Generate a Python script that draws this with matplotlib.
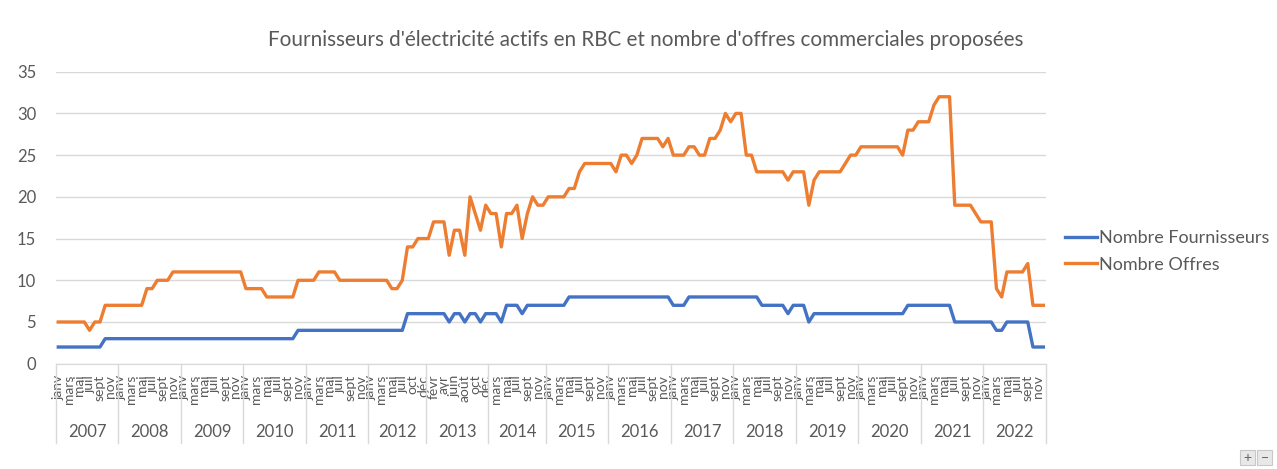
import matplotlib.pyplot as plt
from matplotlib.lines import Line2D
from matplotlib.patches import Rectangle
from matplotlib.transforms import blended_transform_factory

YEARS = list(range(2007, 2023))
MONTHS = ["janv", "févr", "mars", "avr", "mai", "juin",
          "juil", "août", "sept", "oct", "nov", "déc"]
# mois absents du tableau source
MISSING_MONTHS = {2012: "sept", 2014: "févr"}

FOURNISSEURS = [
    2, 2, 2, 2, 2, 2, 2, 2, 2, 3, 3, 3,        # 2007
    3, 3, 3, 3, 3, 3, 3, 3, 3, 3, 3, 3,        # 2008
    3, 3, 3, 3, 3, 3, 3, 3, 3, 3, 3, 3,        # 2009
    3, 3, 3, 3, 3, 3, 3, 3, 3, 3, 4, 4,        # 2010
    4, 4, 4, 4, 4, 4, 4, 4, 4, 4, 4, 4,        # 2011
    4, 4, 4, 4, 4, 4, 4, 6, 6, 6, 6,           # 2012
    6, 6, 6, 6, 5, 6, 6, 5, 6, 6, 5, 6,        # 2013
    6, 6, 5, 7, 7, 7, 6, 7, 7, 7, 7,           # 2014
    7, 7, 7, 7, 8, 8, 8, 8, 8, 8, 8, 8,        # 2015
    8, 8, 8, 8, 8, 8, 8, 8, 8, 8, 8, 8,        # 2016
    7, 7, 7, 8, 8, 8, 8, 8, 8, 8, 8, 8,        # 2017
    8, 8, 8, 8, 8, 7, 7, 7, 7, 7, 6, 7,        # 2018
    7, 7, 5, 6, 6, 6, 6, 6, 6, 6, 6, 6,        # 2019
    6, 6, 6, 6, 6, 6, 6, 6, 6, 7, 7, 7,        # 2020
    7, 7, 7, 7, 7, 7, 5, 5, 5, 5, 5, 5,        # 2021
    5, 5, 4, 4, 5, 5, 5, 5, 5, 2, 2, 2,        # 2022
]

OFFRES = [
    5, 5, 5, 5, 5, 5, 4, 5, 5, 7, 7, 7,                    # 2007
    7, 7, 7, 7, 7, 9, 9, 10, 10, 10, 11, 11,               # 2008
    11, 11, 11, 11, 11, 11, 11, 11, 11, 11, 11, 11,        # 2009
    9, 9, 9, 9, 8, 8, 8, 8, 8, 8, 10, 10,                  # 2010
    10, 10, 11, 11, 11, 11, 10, 10, 10, 10, 10, 10,        # 2011
    10, 10, 10, 10, 9, 9, 10, 14, 14, 15, 15,              # 2012
    15, 17, 17, 17, 13, 16, 16, 13, 20, 18, 16, 19,        # 2013
    18, 18, 14, 18, 18, 19, 15, 18, 20, 19, 19,            # 2014
    20, 20, 20, 20, 21, 21, 23, 24, 24, 24, 24, 24,        # 2015
    24, 23, 25, 25, 24, 25, 27, 27, 27, 27, 26, 27,        # 2016
    25, 25, 25, 26, 26, 25, 25, 27, 27, 28, 30, 29,        # 2017
    30, 30, 25, 25, 23, 23, 23, 23, 23, 23, 22, 23,        # 2018
    23, 23, 19, 22, 23, 23, 23, 23, 23, 24, 25, 25,        # 2019
    26, 26, 26, 26, 26, 26, 26, 26, 25, 28, 28, 29,        # 2020
    29, 29, 31, 32, 32, 32, 19, 19, 19, 19, 18, 17,        # 2021
    17, 17, 9, 8, 11, 11, 11, 11, 12, 7, 7, 7,             # 2022
]

TITLE = "Fournisseurs d'électricité actifs en RBC et nombre d'offres commerciales proposées"
BLUE = "#4472C4"
ORANGE = "#ED7D31"
GRID = "#D9D9D9"
TEXT = "#595959"


def build_categories() -> list[tuple[int, str]]:
    cats = []
    for year in YEARS:
        for month in MONTHS:
            if MISSING_MONTHS.get(year) == month:
                continue
            cats.append((year, month))
    return cats


def main() -> None:
    plt.rcParams["font.family"] = ["Lato", "DejaVu Sans"]
    cats = build_categories()
    x = list(range(len(cats)))

    fig = plt.figure(figsize=(12.77, 4.69), dpi=100)
    ax = fig.add_axes([0.0436, 0.2245, 0.8191 - 0.0436, 0.8471 - 0.2245])

    ax.plot(x, FOURNISSEURS, color=BLUE, lw=2.4, label="Nombre Fournisseurs",
            solid_joinstyle="round")
    ax.plot(x, OFFRES, color=ORANGE, lw=2.4, label="Nombre Offres",
            solid_joinstyle="round")

    ax.set_xlim(-0.5, len(cats) - 0.5)
    ax.set_ylim(0, 35)
    ax.set_yticks(range(0, 36, 5))
    ax.grid(axis="y", color=GRID, lw=1)
    ax.set_axisbelow(True)
    for side in ("left", "top", "right"):
        ax.spines[side].set_visible(False)
    ax.spines["bottom"].set_color(GRID)
    ax.tick_params(axis="y", length=0, pad=14, labelsize=12, labelcolor=TEXT)

    # mois : une étiquette sur deux, comme Excel
    ax.set_xticks(x[::2])
    ax.set_xticklabels([m for _, m in cats][::2], rotation=90, fontsize=10,
                       color=TEXT)
    ax.tick_params(axis="x", length=0, pad=8)

    # années + séparateurs
    trans = blended_transform_factory(ax.transData, fig.transFigure)
    start = 0
    bounds = [-0.5]
    for year in YEARS:
        n = sum(1 for y, _ in cats if y == year)
        mid = start + (n - 1) / 2
        ax.text(mid, 0.079, str(year), transform=trans, ha="center",
                va="center", fontsize=12, color=TEXT)
        start += n
        bounds.append(start - 0.5)
    for b in bounds:
        ax.add_line(Line2D([b, b], [0.2245, 0.055], transform=trans,
                           color=GRID, lw=1, clip_on=False))

    fig.text(0.506, 0.915, TITLE, ha="center", va="center", fontsize=14.9,
             color=TEXT)

    fig.legend(loc="center left", bbox_to_anchor=(0.834, 0.464), frameon=False,
               fontsize=13, handlelength=1.75, handletextpad=0.12,
               labelspacing=0.6, borderpad=0, borderaxespad=0,
               labelcolor=TEXT)

    # petits boutons +/- en bas à droite
    for i, sym in enumerate(["+", "−"]):
        x0 = 1240 / 1277 + i * 17 / 1277
        fig.patches.append(Rectangle((x0, 4 / 469), 15 / 1277, 15 / 469,
                                     transform=fig.transFigure,
                                     facecolor="#E8E8E8", edgecolor="#C8C8C8",
                                     lw=0.8))
        fig.text(x0 + 7.5 / 1277, 11.5 / 469, sym, ha="center", va="center",
                 fontsize=10, color="#606060")

    fig.savefig("out.png", dpi=100)
    plt.close(fig)


if __name__ == "__main__":
    main()
